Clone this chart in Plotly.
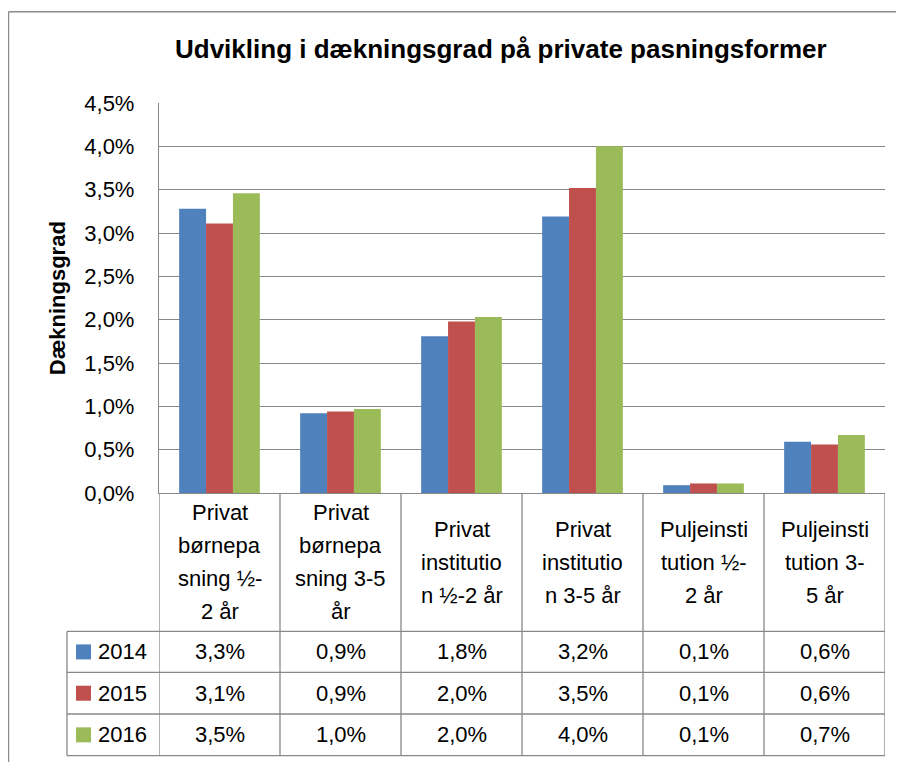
import plotly.graph_objects as go

# ---------------- data ----------------
categories = [
    "Privat børnepasning ½-2 år",
    "Privat børnepasning 3-5 år",
    "Privat institution ½-2 år",
    "Privat institution 3-5 år",
    "Puljeinstitution ½-2 år",
    "Puljeinstitution 3-5 år",
]
# wrapped header text as shown in the data table
category_lines = [
    ["Privat", "børnepa", "sning ½-", "2 år"],
    ["Privat", "børnepa", "sning 3-5", "år"],
    ["Privat", "institutio", "n ½-2 år"],
    ["Privat", "institutio", "n 3-5 år"],
    ["Puljeinsti", "tution ½-", "2 år"],
    ["Puljeinsti", "tution 3-", "5 år"],
]
years = ["2014", "2015", "2016"]
values_2014 = [0.0328, 0.0092, 0.0181, 0.0319, 0.0009, 0.0059]
values_2015 = [0.0311, 0.0094, 0.0198, 0.0352, 0.0011, 0.0056]
values_2016 = [0.0346, 0.0097, 0.0203, 0.0400, 0.0011, 0.0067]
series = [values_2014, values_2015, values_2016]
colors = ["#4F81BD", "#C0504D", "#9BBB59"]
y_max = 0.045
y_step = 0.005

title_text = "Udvikling i dækningsgrad på private pasningsformer"
y_title = "Dækningsgrad"

# ---------------- layout geometry (screen pixels) ----------------
OFF = 8                      # page body margin
W, H = 904 - OFF, 762 - OFF
SL, SR, ST, SB = 159, 885, 103.3, 493.3   # plot area on screen
GRID = "#888888"
FONT = "Liberation Sans, Arial, sans-serif"


def X(sx):
    return (sx - SL) / (SR - SL)


def Y(sy):
    return (SB - sy) / (SB - ST)


fig = go.Figure()
for yr, vals, col in zip(years, series, colors):
    fig.add_trace(go.Bar(
        name=yr, x=categories, y=vals,
        marker=dict(color=col, line=dict(width=0)),
        hovertemplate="%{x}<br>" + yr + ": %{y:.1%}<extra></extra>",
    ))

shapes = []
annotations = []

# outer chart border (left and top visible)
shapes.append(dict(type="line", xref="paper", yref="paper",
                   x0=X(OFF + 0.5), x1=X(910), y0=Y(12), y1=Y(12),
                   line=dict(color="#8c8c8c", width=1.5)))
shapes.append(dict(type="line", xref="paper", yref="paper",
                   x0=X(OFF + 0.5), x1=X(OFF + 0.5), y0=Y(12), y1=Y(770),
                   line=dict(color="#8c8c8c", width=1.5)))

# data table geometry
header_bottom = 631.7
row_lines = [631.7, 672.7, 714.3, 756.0]
row_centers = [(row_lines[i] + row_lines[i + 1]) / 2 for i in range(3)]
legend_left = 67
n = len(categories)

# vertical column lines
for i in range(n + 1):
    shapes.append(dict(type="line", xref="x", yref="paper",
                       x0=i - 0.5, x1=i - 0.5, y0=Y(SB), y1=Y(row_lines[-1]),
                       line=dict(color=GRID, width=1.3)))
# legend column left border
shapes.append(dict(type="line", xref="paper", yref="paper",
                   x0=X(legend_left), x1=X(legend_left),
                   y0=Y(row_lines[0]), y1=Y(row_lines[-1]),
                   line=dict(color=GRID, width=1.3)))
# horizontal row lines
for r in row_lines:
    shapes.append(dict(type="line", xref="paper", yref="paper",
                       x0=X(legend_left), x1=X(SR), y0=Y(r), y1=Y(r),
                       line=dict(color=GRID, width=1.3)))

# header labels (category names, wrapped)
line_h = 33
hdr_center = (SB + header_bottom) / 2
for i, lines in enumerate(category_lines):
    k = len(lines)
    for j, t in enumerate(lines):
        cy = hdr_center + (j - (k - 1) / 2) * line_h
        annotations.append(dict(x=i, y=Y(cy), xref="x", yref="paper",
                                text=t, showarrow=False, xanchor="center",
                                yanchor="middle",
                                font=dict(family=FONT, size=22, color="#000")))

# row values + legend keys
for r, (yr, vals, col) in enumerate(zip(years, series, colors)):
    cy = row_centers[r]
    shapes.append(dict(type="rect", xref="paper", yref="paper",
                       x0=X(76), x1=X(91), y0=Y(cy - 7.5), y1=Y(cy + 7.5),
                       fillcolor=col, line=dict(width=0)))
    annotations.append(dict(x=X(96), y=Y(cy), xref="paper", yref="paper",
                            text=yr, showarrow=False, xanchor="left",
                            yanchor="middle",
                            font=dict(family=FONT, size=22, color="#000")))
    for i, v in enumerate(vals):
        txt = f"{v * 100:.1f}".replace(".", ",") + "%"
        annotations.append(dict(x=i, y=Y(cy), xref="x", yref="paper",
                                text=txt, showarrow=False, xanchor="center",
                                yanchor="middle",
                                font=dict(family=FONT, size=22, color="#000")))

# y axis title
annotations.append(dict(x=X(57.5), y=Y(299), xref="paper", yref="paper",
                        text="<b>" + y_title + "</b>", textangle=-90,
                        showarrow=False, xanchor="center", yanchor="middle",
                        font=dict(family=FONT, size=22, color="#000")))

# chart title
annotations.append(dict(x=X(501), y=Y(49), xref="paper", yref="paper",
                        text="<b>" + title_text + "</b>",
                        showarrow=False, xanchor="center", yanchor="middle",
                        font=dict(family=FONT, size=26, color="#000")))

fig.update_layout(
    width=W, height=H,
    margin=dict(l=SL - OFF, r=W - (SR - OFF), t=ST - OFF, b=H - (SB - OFF),
                pad=0),
    paper_bgcolor="white", plot_bgcolor="white",
    separators=",.",
    barmode="group", bargap=0.333, bargroupgap=0,
    showlegend=False,
    font=dict(family=FONT, color="#000"),
    xaxis=dict(showticklabels=False, ticks="", showgrid=False,
               showline=True, linecolor=GRID, linewidth=1.3,
               range=[-0.5, n - 0.5], zeroline=False),
    yaxis=dict(range=[0, y_max], dtick=y_step, tick0=0, tickformat=".1%",
               showgrid=True, gridcolor=GRID, gridwidth=1.3,
               showline=True, linecolor=GRID, linewidth=1.3,
               ticks="", ticklabelstandoff=19, zeroline=False,
               tickfont=dict(family=FONT, size=22, color="#000")),
    shapes=shapes,
    annotations=annotations,
)

fig.write_html("out.html")
